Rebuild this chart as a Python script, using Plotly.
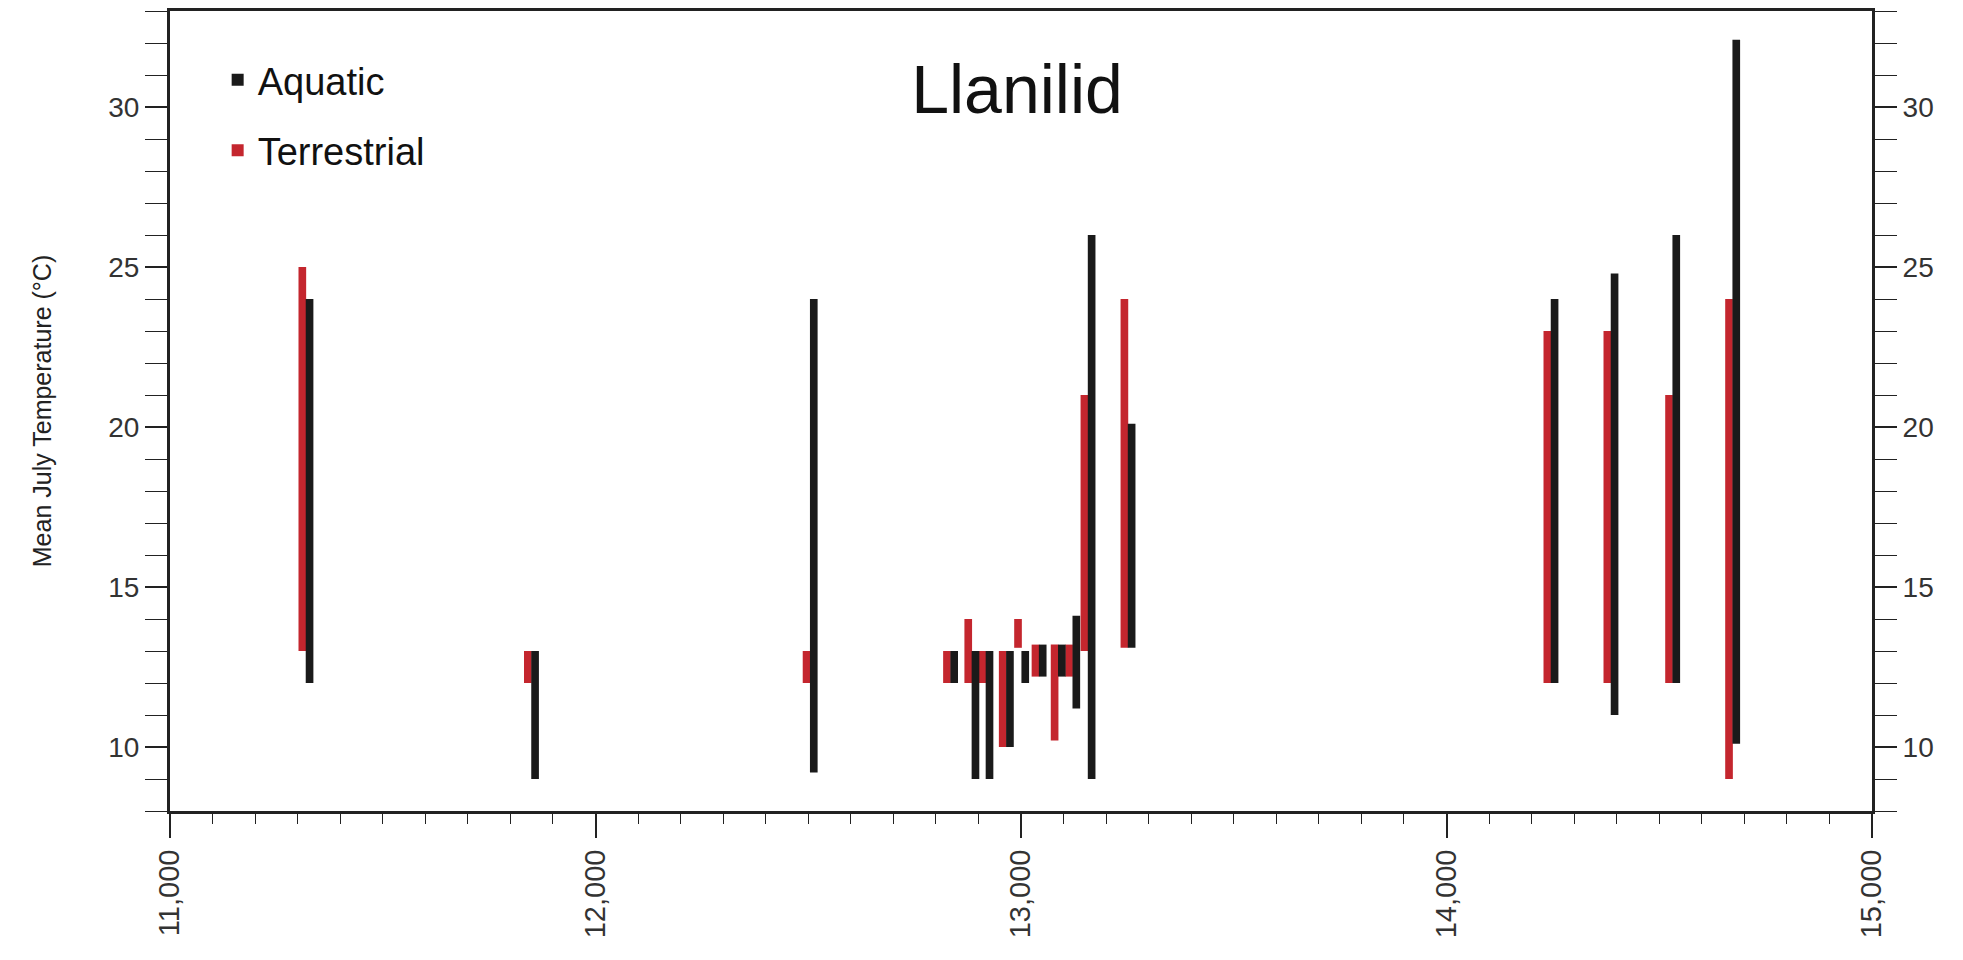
import plotly.graph_objects as go

# ---- data ----
ages = [11320, 11850, 12505, 12835, 12885, 12918, 12966, 13002, 13043,
        13088, 13122, 13158, 13252, 14246, 14387, 14532, 14673]

terr_low  = [13, 12, 12, 12, 12, 12, 10, 13.1, 12.2, 10.2, 12.2, 13, 13.1, 12, 12, 12, 9]
terr_high = [25, 13, 13, 13, 14, 13, 13, 14, 13.2, 13.2, 13.2, 21, 24, 23, 23, 21, 24]

aqua_low  = [12, 9, 9.2, 12, 9, 9, 10, 12, 12.2, 12.2, 11.2, 9, 13.1, 12, 11, 12, 10.1]
aqua_high = [24, 13, 24, 13, 13, 13, 13, 13, 13.2, 13.2, 14.1, 26, 20.1, 24, 24.8, 26, 32.1]

x_ticks = [11000, 12000, 13000, 14000, 15000]
x_tick_labels = ["11,000", "12,000", "13,000", "14,000", "15,000"]
y_ticks = [10, 15, 20, 25, 30]

RED = "#c4262e"
BLACK = "#1a1a1a"
BAR_W = 18

fig = go.Figure()
fig.add_trace(go.Bar(
    x=ages, y=[h - l for l, h in zip(terr_low, terr_high)], base=terr_low,
    width=BAR_W, offset=-BAR_W, marker=dict(color=RED, line=dict(width=0)),
    name="Terrestrial", legendgroup="t", legendrank=2))
fig.add_trace(go.Bar(
    x=ages, y=[h - l for l, h in zip(aqua_low, aqua_high)], base=aqua_low,
    width=BAR_W, offset=-1, marker=dict(color=BLACK, line=dict(width=0)),
    name="Aquatic", legendgroup="a", legendrank=1))
# invisible trace to carry the right-hand axis
fig.add_trace(go.Scatter(x=[ages[0]], y=[aqua_low[0]], yaxis="y2", mode="markers",
                         marker=dict(opacity=0), showlegend=False, hoverinfo="skip"))

FONT = "Arial, Liberation Sans, sans-serif"
tick_font = dict(family=FONT, size=28, color="#333333")

fig.update_layout(
    width=1963, height=960,
    paper_bgcolor="white", plot_bgcolor="white",
    barmode="overlay",
    margin=dict(l=170, r=91, t=11, b=149, autoexpand=False),
    title=dict(text="Llanilid", x=1017 / 1963, xanchor="center", y=1 - 89 / 960,
               yanchor="middle",
               font=dict(family=FONT, size=68, color="#111111")),
    legend=dict(x=0.028, y=0.953, xanchor="left", yanchor="top",
                traceorder="grouped", tracegroupgap=18,
                font=dict(family=FONT, size=38, color="#111111"),
                bgcolor="rgba(0,0,0,0)", itemwidth=30),
    xaxis=dict(range=[11000, 15000], tickmode="array", tickvals=x_ticks,
               ticktext=x_tick_labels, tickangle=-90, ticks="outside", ticklen=24,
               tickwidth=1.5, tickcolor="#222", showgrid=False, zeroline=False,
               showline=True, linewidth=3, linecolor="#222", mirror=True,
               tickfont=dict(family=FONT, size=29, color="#333333"),
               minor=dict(dtick=100, ticks="outside", ticklen=10, tickwidth=1.2, tickcolor="#222")),
    yaxis=dict(range=[8, 33], tickmode="array", tickvals=y_ticks, ticks="outside",
               ticklen=22, tickwidth=1.5, tickcolor="#222", showgrid=False, zeroline=False,
               showline=True, linewidth=3, linecolor="#222", tickfont=tick_font,
               minor=dict(dtick=1, ticks="outside", ticklen=22, tickwidth=1.2, tickcolor="#222"),
               title=dict(text="Mean July Temperature (°C)", standoff=50,
                          font=dict(family=FONT, size=25, color="#222222"))),
    yaxis2=dict(range=[8, 33], overlaying="y", side="right", tickmode="array",
                tickvals=y_ticks, ticks="outside", ticklen=22, tickwidth=1.5,
                tickcolor="#222", showgrid=False, zeroline=False, showline=True,
                linewidth=3, linecolor="#222", tickfont=tick_font,
                minor=dict(dtick=1, ticks="outside", ticklen=22, tickwidth=1.2, tickcolor="#222")),
    showlegend=True,
)

fig.write_html("out.html", config={"displayModeBar": False},
               post_script="document.body.style.margin='0';")
